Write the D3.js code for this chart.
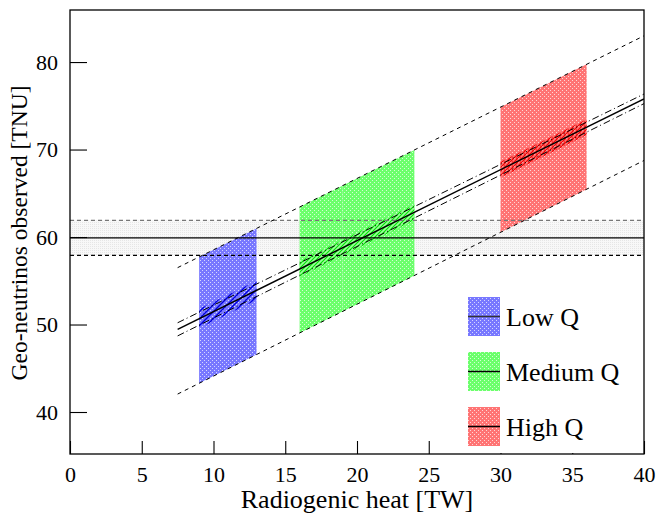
<!DOCTYPE html>
<html><head><meta charset="utf-8">
<script src="https://cdn.jsdelivr.net/npm/d3@7"></script>
<style>
body{margin:0;background:#fff}
svg{display:block}
</style>
</head><body>
<svg id="c" width="672" height="514"></svg>
<script>
// ---------- data ----------
const xDomain = [0, 40];
const yDomain = [35.2, 85.95];
const xTicks = [0, 5, 10, 15, 20, 25, 30, 35, 40];
const yTicks = [40, 50, 60, 70, 80];
const categories = ["Low Q", "Medium Q", "High Q"];
const categoryColors = ["#7878ff", "#6cff6c", "#ff7474"];
const hatchColors = ["#0000e0", "#00e000", "#f00000"];
const heatRanges = [[9, 13], [16, 24], [30, 36]];
const modelX = [7.5, 40];
const centralY = [49.45, 75.8];
const upperDashDotY = [50.2, 76.35];
const lowerDashDotY = [48.7, 75.25];
const upperDashedY = [56.5, 83.0];
const lowerDashedY = [42.05, 68.75];
const observed = 59.9;
const observedErr = 2.0;
const fitHalfWidth = [1.1, 0.9, 0.9];

const FONT = '"Liberation Serif", "Times New Roman", Tinos, "Nimbus Roman", FreeSerif, "Noto Serif", "DejaVu Serif", serif';

// ---------- layout ----------
const L = 70, R = 644, T = 10, B = 454;
const svg = d3.select("#c");
const x = d3.scaleLinear().domain(xDomain).range([L, R]);
const y = d3.scaleLinear().domain(yDomain).range([B, T]);
const lineAt = (ys, xv) => ys[0] + (ys[1] - ys[0]) * (xv - modelX[0]) / (modelX[1] - modelX[0]);

// ---------- patterns ----------
const defs = svg.append("defs");
{
  const p = defs.append("pattern").attr("id", "dots").attr("patternUnits", "userSpaceOnUse")
    .attr("width", 4).attr("height", 4);
  p.append("rect").attr("width", 1).attr("height", 1).attr("fill", "#fff").attr("fill-opacity", 0.7);
  p.append("rect").attr("x", 2).attr("y", 2).attr("width", 1).attr("height", 1).attr("fill", "#fff").attr("fill-opacity", 0.7);
}
{
  const p = defs.append("pattern").attr("id", "grey").attr("patternUnits", "userSpaceOnUse")
    .attr("width", 2).attr("height", 2);
  p.append("rect").attr("width", 2).attr("height", 2).attr("fill", "#f8f8f8");
  p.append("rect").attr("width", 1).attr("height", 1).attr("fill", "#e6e6e6");
}
const hatchSpacing = [7, 4, 4];
hatchColors.forEach((c, i) => {
  const s = hatchSpacing[i];
  const p = defs.append("pattern").attr("id", "hat" + i).attr("patternUnits", "userSpaceOnUse")
    .attr("width", s).attr("height", s);
  if (i === 1) p.append("rect").attr("width", s).attr("height", s).attr("fill", "#9cff9c");
  p.append("path").attr("d", `M0,${s} L${s},0 M${-s/2},${s/2} L${s/2},${-s/2} M${s/2},${s*1.5} L${s*1.5},${s/2}`)
    .attr("stroke", c).attr("stroke-width", i === 0 ? 1.4 : 1.1);
  if (i === 2) p.append("path").attr("d", `M0,0 L0,${s}`).attr("stroke", c).attr("stroke-width", 1);
});

svg.append("clipPath").attr("id", "frame").append("rect")
  .attr("x", L).attr("y", T).attr("width", R - L).attr("height", B - T);

const plot = svg.append("g").attr("clip-path", "url(#frame)");

// observed band
plot.append("rect").attr("x", L).attr("width", R - L)
  .attr("y", y(observed + observedErr)).attr("height", y(observed - observedErr) - y(observed + observedErr))
  .attr("fill", "url(#grey)");

// coloured prediction regions between outer dashed lines
heatRanges.forEach((r, i) => {
  const pts = [[r[0], lineAt(upperDashedY, r[0])], [r[1], lineAt(upperDashedY, r[1])],
               [r[1], lineAt(lowerDashedY, r[1])], [r[0], lineAt(lowerDashedY, r[0])]];
  const d = "M" + pts.map(p => [x(p[0]), y(p[1])].join(",")).join("L") + "Z";
  plot.append("path").attr("d", d).attr("fill", categoryColors[i]);
  plot.append("path").attr("d", d).attr("fill", "url(#dots)");
});
// faint seam inside the green region
plot.append("line").attr("x1", x(19)).attr("x2", x(19))
  .attr("y1", y(lineAt(upperDashedY, 19))).attr("y2", y(lineAt(lowerDashedY, 19)))
  .attr("stroke", "#b0ffb0").attr("stroke-width", 0.8).attr("stroke-opacity", 0.6);

// hatched fit bands along the central line
heatRanges.forEach((r, i) => {
  const h = fitHalfWidth[i];
  const pts = [[r[0], lineAt(centralY, r[0]) + h], [r[1], lineAt(centralY, r[1]) + h],
               [r[1], lineAt(centralY, r[1]) - h], [r[0], lineAt(centralY, r[0]) - h]];
  plot.append("path").attr("d", "M" + pts.map(p => [x(p[0]), y(p[1])].join(",")).join("L") + "Z")
    .attr("fill", `url(#hat${i})`);
});

// horizontal observed lines
plot.append("line").attr("x1", L).attr("x2", R).attr("y1", y(observed + observedErr)).attr("y2", y(observed + observedErr))
  .attr("stroke", "#777").attr("stroke-width", 1.3).attr("stroke-dasharray", "4,3");
plot.append("line").attr("x1", L).attr("x2", R).attr("y1", y(observed - observedErr)).attr("y2", y(observed - observedErr))
  .attr("stroke", "#000").attr("stroke-width", 1.1).attr("stroke-dasharray", "4,3");
plot.append("line").attr("x1", L).attr("x2", R).attr("y1", y(observed)).attr("y2", y(observed))
  .attr("stroke", "#000").attr("stroke-width", 1.3);

// model lines
const mline = (ys, dash, w) => plot.append("line")
  .attr("x1", x(modelX[0])).attr("y1", y(ys[0])).attr("x2", x(modelX[1])).attr("y2", y(ys[1]))
  .attr("stroke", "#000").attr("stroke-width", w).attr("stroke-dasharray", dash);
mline(upperDashedY, "4,4", 1);
mline(lowerDashedY, "4,4", 1);
mline(upperDashDotY, "7,3,1,3", 1);
mline(lowerDashDotY, "7,3,1,3", 1);
mline(centralY, null, 1.5);

// ---------- axes ----------
const TICKFS = 22;
const gx = svg.append("g").attr("transform", `translate(0,${B})`);
gx.call(d3.axisBottom(x).tickValues(d3.range(0, 41).filter(v => v % 5)).tickSizeInner(-6.5).tickSizeOuter(0).tickFormat(""));
gx.call(d3.axisBottom(x).tickValues(xTicks).tickSizeInner(-13).tickSizeOuter(0).tickPadding(12).tickFormat(d3.format("d")));
gx.attr("font-family", FONT).attr("font-size", TICKFS);
gx.selectAll(".domain").remove();
gx.selectAll("line").attr("stroke", "#000").attr("stroke-width", 1.1);
gx.selectAll("text").attr("font-family", FONT).attr("font-size", TICKFS).attr("fill", "#000");

const gy = svg.append("g").attr("transform", `translate(${L},0)`);
gy.call(d3.axisLeft(y).tickValues(d3.range(36, 86, 2).filter(v => v % 10)).tickSizeInner(-8.5).tickSizeOuter(0).tickFormat(""));
gy.call(d3.axisLeft(y).tickValues(yTicks).tickSizeInner(-17).tickSizeOuter(0).tickPadding(12).tickFormat(d3.format("d")));
gy.attr("font-family", FONT).attr("font-size", TICKFS);
gy.selectAll(".domain").remove();
gy.selectAll("line").attr("stroke", "#000").attr("stroke-width", 1.1);
gy.selectAll("text").attr("font-family", FONT).attr("font-size", TICKFS).attr("fill", "#000");

// ---------- legend ----------
svg.append("rect").attr("x", 462).attr("y", 280).attr("width", R - 462 - 1).attr("height", B - 280 - 1).attr("fill", "#fff");
const legTop = [297, 352, 407];
categories.forEach((name, i) => {
  svg.append("rect").attr("x", 468).attr("y", legTop[i]).attr("width", 32).attr("height", 39).attr("fill", categoryColors[i]);
  svg.append("rect").attr("x", 468).attr("y", legTop[i]).attr("width", 32).attr("height", 39).attr("fill", "url(#dots)");
  svg.append("line").attr("x1", 468).attr("x2", 500).attr("y1", legTop[i] + 19.5).attr("y2", legTop[i] + 19.5)
    .attr("stroke", i === 0 ? "#333" : "#000").attr("stroke-width", 1.5);
  svg.append("text").attr("x", 506).attr("y", legTop[i] + 29).attr("font-family", FONT).attr("font-size", 26).text(name);
});

// ---------- frame ----------
svg.append("rect").attr("x", L).attr("y", T).attr("width", R - L).attr("height", B - T)
  .attr("fill", "none").attr("stroke", "#000").attr("stroke-width", 1.3);

// ---------- titles ----------
svg.append("text").attr("x", (L + R) / 2).attr("y", 508).attr("text-anchor", "middle")
  .attr("font-family", FONT).attr("font-size", 26).text("Radiogenic heat [TW]");
svg.append("text").attr("transform", `translate(27,${(T + B) / 2 + 1}) rotate(-90)`).attr("text-anchor", "middle")
  .attr("font-family", FONT).attr("font-size", 23.5).text("Geo-neutrinos observed [TNU]");
</script>
</body></html>
